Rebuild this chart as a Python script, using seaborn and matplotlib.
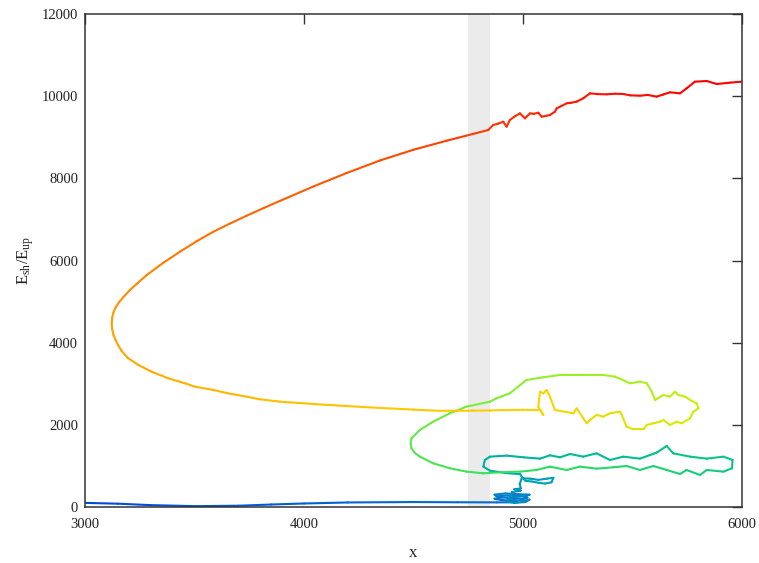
import numpy as np
import matplotlib
matplotlib.use("Agg")
import matplotlib.pyplot as plt
import seaborn as sns
from matplotlib.collections import LineCollection

# trajectory, piece by piece: (x, E_sh/E_up, colour value t)
blue_flat = [(3000, 100, 0.00), (3150, 80, 0.01), (3300, 45, 0.02), (3500, 20, 0.03),
             (3700, 30, 0.04), (3850, 60, 0.05), (4000, 85, 0.06), (4200, 110, 0.07),
             (4500, 120, 0.08), (4700, 115, 0.09), (4880, 112, 0.095), (4975, 115, 0.10)]

blue_cluster = [(4960, 150, 0.105), (4900, 170, 0.11), (4870, 200, 0.11), (4900, 230, 0.115),
                (4960, 220, 0.12), (5000, 190, 0.12), (5020, 230, 0.125), (4990, 270, 0.13),
                (4930, 280, 0.13), (4880, 260, 0.135), (4870, 300, 0.14), (4920, 330, 0.14),
                (4980, 310, 0.145), (5030, 300, 0.15), (5010, 260, 0.15), (4960, 250, 0.155),
                (4930, 200, 0.16), (4960, 170, 0.16), (5000, 150, 0.165), (5030, 180, 0.17),
                (5010, 120, 0.17), (4960, 100, 0.175), (4930, 130, 0.18), (4950, 360, 0.185),
                (4990, 400, 0.19), (4960, 430, 0.19), (4990, 454, 0.195), (4985, 560, 0.20),
                (4994, 697, 0.205)]

teal_bit = [(5032, 690, 0.21), (5070, 660, 0.21), (5110, 690, 0.215), (5139, 710, 0.22),
            (5130, 600, 0.22), (5100, 570, 0.225), (5070, 590, 0.23), (5040, 620, 0.23),
            (5010, 640, 0.235), (4994, 738, 0.24), (4987, 800, 0.245)]

teal_loop = [(4925, 825, 0.25), (4849, 884, 0.25), (4819, 982, 0.255), (4826, 1144, 0.26),
             (4849, 1225, 0.26), (4925, 1250, 0.265), (5002, 1209, 0.27), (5078, 1177, 0.27),
             (5123, 1258, 0.275), (5169, 1209, 0.28), (5215, 1290, 0.28), (5275, 1225, 0.285),
             (5336, 1306, 0.29), (5397, 1144, 0.29), (5458, 1225, 0.295), (5534, 1177, 0.30),
             (5610, 1323, 0.30), (5656, 1485, 0.305), (5686, 1306, 0.31), (5763, 1225, 0.31),
             (5839, 1177, 0.315), (5915, 1225, 0.32), (5957, 1144, 0.32), (5954, 941, 0.325),
             (5915, 860, 0.33), (5839, 901, 0.335), (5808, 779, 0.34), (5747, 901, 0.345),
             (5717, 803, 0.35), (5656, 901, 0.355), (5595, 998, 0.36), (5534, 901, 0.365),
             (5473, 998, 0.37), (5412, 966, 0.375), (5336, 933, 0.38), (5260, 982, 0.385),
             (5199, 901, 0.39), (5123, 982, 0.39), (5062, 901, 0.395), (4986, 860, 0.40)]

green_loop = [(4900, 845, 0.405), (4819, 820, 0.41), (4742, 861, 0.415), (4666, 942, 0.42),
              (4590, 1063, 0.425), (4529, 1226, 0.43), (4505, 1320, 0.435), (4491, 1428, 0.44),
              (4487, 1550, 0.445), (4491, 1672, 0.45), (4529, 1875, 0.455), (4590, 2077, 0.46),
              (4666, 2280, 0.47), (4742, 2443, 0.475), (4849, 2564, 0.48), (4879, 2645, 0.485),
              (4940, 2767, 0.49), (5016, 3092, 0.50), (5092, 3157, 0.505), (5169, 3213, 0.51),
              (5260, 3213, 0.515), (5306, 3213, 0.52)]

yellow_loop = [(5367, 3213, 0.525), (5420, 3173, 0.53), (5489, 3010, 0.535), (5534, 3051, 0.54),
               (5565, 3010, 0.545), (5588, 2808, 0.55), (5603, 2605, 0.555), (5641, 2727, 0.56),
               (5671, 2686, 0.565), (5694, 2808, 0.57), (5709, 2727, 0.575), (5740, 2686, 0.58),
               (5763, 2605, 0.585), (5793, 2524, 0.59), (5801, 2402, 0.595), (5778, 2321, 0.60),
               (5763, 2159, 0.605), (5725, 2037, 0.61), (5702, 2077, 0.615), (5671, 1996, 0.62),
               (5641, 2118, 0.62), (5626, 2077, 0.625), (5595, 2037, 0.63), (5565, 1996, 0.63),
               (5550, 1891, 0.635), (5504, 1891, 0.64), (5473, 1956, 0.645), (5451, 2240, 0.65),
               (5443, 2321, 0.65), (5397, 2280, 0.655), (5367, 2199, 0.66), (5336, 2240, 0.66),
               (5306, 2118, 0.665), (5291, 2036, 0.67), (5245, 2401, 0.67), (5230, 2281, 0.675),
               (5146, 2361, 0.68), (5123, 2685, 0.68), (5108, 2848, 0.685), (5093, 2767, 0.685),
               (5078, 2807, 0.69), (5070, 2441, 0.69), (5093, 2239, 0.695), (5078, 2361, 0.695),
               (5000, 2365, 0.70), (4925, 2361, 0.70), (4850, 2350, 0.705), (4773, 2345, 0.705),
               (4621, 2340, 0.71)]

big_arc = [(4500, 2370, 0.715), (4350, 2410, 0.72), (4200, 2455, 0.725), (4050, 2505, 0.73),
           (3890, 2564, 0.735), (3800, 2620, 0.74), (3738, 2685, 0.745), (3650, 2770, 0.75),
           (3586, 2848, 0.755), (3502, 2929, 0.76), (3457, 3010, 0.765), (3380, 3132, 0.77),
           (3304, 3294, 0.775), (3244, 3456, 0.78), (3195, 3630, 0.785), (3167, 3800, 0.79),
           (3150, 3950, 0.79), (3140, 4060, 0.795), (3130, 4190, 0.797), (3124, 4330, 0.80),
           (3122, 4470, 0.80), (3124, 4610, 0.803), (3130, 4740, 0.806), (3140, 4860, 0.81),
           (3155, 4980, 0.815), (3175, 5110, 0.82), (3205, 5280, 0.825), (3236, 5430, 0.83),
           (3282, 5647, 0.835), (3358, 5947, 0.84), (3434, 6215, 0.85), (3510, 6470, 0.855),
           (3586, 6700, 0.86), (3662, 6900, 0.865), (3738, 7090, 0.87), (3815, 7275, 0.875),
           (3890, 7450, 0.88), (4042, 7800, 0.89), (4195, 8130, 0.895), (4347, 8435, 0.90),
           (4499, 8695, 0.91), (4651, 8915, 0.92), (4841, 9176, 0.93)]

red_top = [(4864, 9298, 0.932), (4885, 9330, 0.934), (4910, 9379, 0.936), (4925, 9257, 0.938),
           (4940, 9420, 0.94), (4960, 9500, 0.942), (4986, 9582, 0.944), (5009, 9460, 0.946),
           (5032, 9582, 0.948), (5050, 9570, 0.95), (5070, 9598, 0.952), (5085, 9501, 0.954),
           (5105, 9520, 0.956), (5123, 9542, 0.958), (5146, 9623, 0.96), (5154, 9704, 0.962),
           (5175, 9760, 0.964), (5199, 9826, 0.966), (5220, 9840, 0.968), (5245, 9867, 0.97),
           (5275, 9948, 0.972), (5306, 10069, 0.974), (5340, 10050, 0.976), (5382, 10045, 0.978),
           (5420, 10060, 0.98), (5458, 10053, 0.982), (5490, 10020, 0.984), (5534, 10012, 0.986),
           (5570, 10030, 0.988), (5610, 9988, 0.99), (5640, 10040, 0.992), (5671, 10094, 0.993),
           (5717, 10069, 0.995), (5747, 10190, 0.996), (5785, 10353, 0.997), (5839, 10369, 0.998),
           (5885, 10296, 0.999), (5945, 10329, 1.0), (5998, 10353, 1.0)]

band = (4750, 4850)
x_ticks = [3000, 4000, 5000, 6000]
y_ticks = [0, 2000, 4000, 6000, 8000, 10000, 12000]

sns.set_theme(style="white")
plt.rcParams["font.family"] = ["Liberation Serif", "DejaVu Serif"]
plt.rcParams["mathtext.fontset"] = "custom"
plt.rcParams["mathtext.rm"] = "Liberation Serif"
plt.rcParams["mathtext.it"] = "Liberation Serif:italic"

cmap = sns.blend_palette(["#0048d8", "#0070d0", "#0098c0", "#00c090", "#30e060",
                          "#90f030", "#d0f000", "#ffd000", "#ffa000", "#ff5000",
                          "#ff0000"], as_cmap=True)

fig = plt.figure(figsize=(7.59, 5.63), dpi=100)
ax = fig.add_axes([0.112, 0.0995, 0.8656, 0.8756])

ax.axvspan(band[0], band[1], color="#ebebeb", lw=0, zorder=0)

path = np.array(blue_flat + blue_cluster + teal_bit + teal_loop + green_loop
                + yellow_loop + big_arc + red_top, dtype=float)
pts = path[:, :2]
t = path[:, 2]
segs = np.stack([pts[:-1], pts[1:]], axis=1)
lc = LineCollection(segs, colors=cmap(0.5 * (t[:-1] + t[1:])), linewidths=1.5,
                    capstyle="round", joinstyle="round", zorder=2)
ax.add_collection(lc)

ax.set_xlim(3000, 6000)
ax.set_ylim(0, 12000)
ax.set_xticks(x_ticks)
ax.set_yticks(y_ticks)
ax.tick_params(direction="in", length=7, width=1, color="#333333",
               top=True, right=True, labelsize=10.5, labelcolor="#222222")
ax.tick_params(axis="x", pad=8)
ax.tick_params(axis="y", pad=5)
for s in ax.spines.values():
    s.set_color("#333333")
    s.set_linewidth(1.1)

ax.set_xlabel("x", fontsize=12, color="#222222")
ax.set_ylabel(r"E$_{\mathrm{sh}}$/E$_{\mathrm{up}}$", fontsize=12, color="#222222")
ax.xaxis.set_label_coords(0.5, -0.078)
ax.yaxis.set_label_coords(-0.075, 0.5)

fig.savefig("out.png", dpi=100)
